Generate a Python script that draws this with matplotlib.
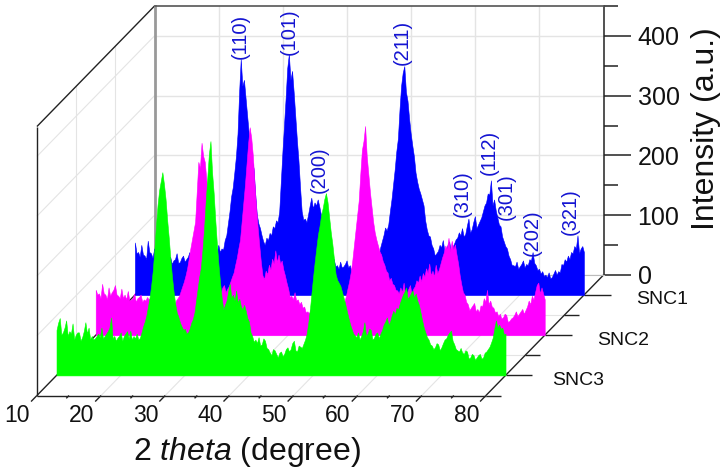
#XRD waterfall of three samples, drawn as an oblique 3D box on one axes
import numpy as np
import matplotlib
matplotlib.use('Agg')
import matplotlib.pyplot as plt

plt.rcParams['font.family'] = ['Liberation Sans', 'DejaVu Sans']
plt.rcParams['mathtext.fontset'] = 'custom'
plt.rcParams['mathtext.rm'] = 'Liberation Sans'
plt.rcParams['mathtext.it'] = 'Liberation Sans:italic'

# Intensity every 0.25 degree from 10 to 80
snc1 = [88,70,72,64,84,68,66,60,91,72,70,62,78,66,62,72,86,70,68,64,80,
        62,64,52,58,60,70,54,55,62,66,56,60,64,72,54,56,60,68,58,58,50,64,56,54,62,70,58,60,64,
        72,70,84,72,78,76,92,100,120,140,165,180,205,232,270,340,395,350,360,330,300,270,255,225,212,170,135,120,112,100,90,84,96,92,104,100,115,112,125,122,140,190,
        240,285,330,380,403,360,375,340,300,260,225,180,140,126,128,122,135,150,163,145,155,150,160,148,135,122,110,100,90,80,72,64,60,48,50,44,56,46,48,52,58,46,50,40,
        42,48,56,44,46,52,60,48,50,56,62,50,55,62,70,58,66,80,90,100,113,108,118,140,160,185,210,240,262,310,350,372,383,340,325,295,270,250,232,205,190,178,170,160,150,125,
        110,100,98,84,78,66,70,74,84,80,92,74,76,84,90,72,80,86,93,96,105,100,112,98,102,116,128,104,110,122,132,112,118,124,130,140,150,155,170,168,192,150,160,142,130,118,
        115,98,90,82,78,66,60,50,50,48,56,44,48,52,58,46,52,50,60,58,72,54,50,42,44,36,40,32,34,30,38,28,30,36,42,34,40,38,52,50,60,56,66,60,72,70,82,78,100,70,78,82,72]
snc2 = [76,68,70,62,86,70,68,60,80,66,72,76,84,68,66,62,78,62,68,60,74,58,60,62,
        70,56,62,64,68,56,60,58,64,60,62,52,58,62,66,54,60,56,56,60,62,48,54,58,60,50,58,62,66,74,82,90,100,112,128,145,160,175,190,240,290,280,322,300,290,260,238,210,180,150,120,100,
        85,74,72,80,84,72,78,82,90,98,105,118,130,146,160,190,220,250,285,320,348,330,300,255,215,180,150,122,100,94,108,102,118,110,128,120,142,122,135,120,125,110,100,88,78,64,66,60,
        72,58,60,52,56,46,48,38,40,36,44,32,36,30,40,30,34,30,38,28,32,30,36,26,30,28,34,32,40,44,52,56,65,78,90,105,125,150,175,200,225,270,310,325,350,300,270,240,215,190,172,160,150,
        140,135,124,118,108,105,92,96,86,84,76,75,70,80,72,88,66,70,78,84,68,78,82,92,88,100,90,104,98,112,104,120,100,108,98,118,104,110,120,130,138,150,145,163,140,158,144,152,135,120,100,
        85,72,68,56,52,42,46,50,54,40,44,38,50,48,62,56,76,52,58,48,46,38,40,32,36,28,30,36,34,22,24,28,30,34,40,32,36,40,44,36,42,48,58,52,66,60,72,84,88,70,80,70,60]
snc3 = [76,88,96,68,72,80,92,66,74,70,87,60,68,72,72,58,64,74,89,70,80,60,66,60,62,66,70,64,80,62,66,70,74,80,97,62,66,58,63,66,72,58,66,70,74,62,75,60,66,62,70,60,63,
        72,82,90,100,115,130,150,175,210,250,285,310,325,340,320,295,260,230,195,165,140,120,105,98,88,82,76,78,70,72,78,88,94,105,125,145,165,180,210,245,290,330,370,392,340,305,260,220,185,
        155,130,110,118,125,140,153,130,135,125,142,122,128,115,110,118,108,96,90,72,66,56,60,54,64,50,52,62,58,46,44,38,34,44,42,36,30,38,40,32,36,44,47,40,44,54,58,42,40,50,48,46,53,60,
        70,88,110,138,165,190,213,235,250,268,280,295,305,290,265,240,220,195,170,160,155,150,140,130,120,108,97,86,78,70,67,64,72,60,66,74,89,66,70,78,76,60,63,70,72,62,70,76,85,90,97,84,
        90,100,108,102,113,110,120,128,135,140,147,128,132,138,142,130,137,125,118,105,92,80,72,64,60,52,50,44,47,54,52,42,47,54,60,62,68,72,75,58,52,44,42,40,46,38,36,42,40,28,30,36,34,26,
        30,34,36,28,30,38,40,44,48,55,63,78,92,80,85,78,80,68,70]

samples = ['SNC1', 'SNC2', 'SNC3']
sample_pos = [3, 2, 1]
sample_label_x = [88.1, 88.1, 87.2]
colors = ['#0000ff', '#ff00ff', '#00ff00']

peak_labels = ['(110)', '(101)', '(200)', '(211)', '(310)', '(112)', '(301)', '(202)', '(321)']
peak_x = [26.4, 34.0, 38.7, 51.7, 61.0, 65.2, 67.9, 72.0, 77.8]
peak_y = [433, 440, 209, 423, 169, 239, 164, 105, 140]

x_major = [10, 20, 30, 40, 50, 60, 70, 80]
x_minor = [15, 25, 35, 45, 55, 65, 75]

DEPTH_DX = 18.33
DEPTH_DY = 201.6

def project(t, z, i):
    # oblique projection, z runs from 0.5 (front) to 3.5 (back wall)
    d = (3.5 - np.asarray(z, dtype=float)) / 3
    return np.asarray(t, dtype=float) - d * DEPTH_DX, np.asarray(i, dtype=float) - d * DEPTH_DY

def seg(t0, z0, i0, t1, z1, i1, **kw):
    x0, y0 = project(t0, z0, i0)
    x1, y1 = project(t1, z1, i1)
    ax.plot([x0, x1], [y0, y1], clip_on=False, solid_capstyle='butt', **kw)

fig = plt.figure(figsize=(7.26, 4.75), dpi=100)
ax = fig.add_axes([154.5 / 726, 200 / 475, 449 / 726, 269 / 475])
ax.set_xlim(10, 80)
ax.set_ylim(0, 450)
ax.patch.set_alpha(0)

# back wall is the real axes
ax.set_xticks(x_major[1:-1])
ax.set_yticks([0, 100, 200, 300, 400])
ax.set_yticks([50, 150, 250, 350, 450], minor=True)
ax.grid(True, color='#e4e4e4', lw=1)
ax.set_axisbelow(True)
ax.yaxis.tick_right()
ax.tick_params(axis='x', length=0, labelbottom=False)
ax.tick_params(axis='y', which='major', length=19.5, width=1.1, labelsize=18, pad=5, color='#222222', labelcolor='#111111')
ax.tick_params(axis='y', which='minor', length=10, width=1.1, color='#222222')
ax.yaxis.set_label_position('right')
ax.set_ylabel('Intensity (a.u.)', fontsize=23, rotation=90, va='center', ha='center', color='#111111')
ax.yaxis.set_label_coords(1.228, 0.543)
ax.spines['left'].set_color('#999999')
ax.spines['left'].set_linewidth(2)
ax.spines['bottom'].set_color('#bbbbbb')
ax.spines['top'].set_color('#555555')
ax.spines['top'].set_linewidth(1.2)
ax.spines['right'].set_color('#222222')
ax.spines['right'].set_linewidth(1.1)

grid = dict(color='#e4e4e4', lw=0.8, zorder=1)
for i in [100, 200, 300, 400]:
    seg(10, 0.5, i, 10, 3.5, i, **grid)
for z in [1.5, 2.5]:
    seg(10, z, 0, 10, z, 450, **grid)
    seg(10, z, 0, 80, z, 0, **grid)
for t in x_major[1:-1]:
    seg(t, 0.5, 0, t, 3.5, 0, **grid)

# box edges
edge = dict(color='#222222', lw=1.0, zorder=2)
seg(10, 0.5, 0, 80, 0.5, 0, **edge)
seg(10, 0.5, 0, 10, 3.5, 0, **edge)
seg(80, 0.5, 0, 80, 3.5, 0, **edge)
seg(10, 0.5, 0, 10, 0.5, 450, **edge)
seg(10, 0.5, 450, 10, 3.5, 450, **edge)

# spectra, back to front
for vals, z, c in zip([snc1, snc2, snc3], sample_pos, colors):
    t = np.linspace(10, 80, len(vals))
    px, py = project(t, z, np.array(vals))
    bx, by = project(t, z, np.zeros(len(vals)))
    ax.fill_between(px, by, py, color=c, lw=0.4, zorder=3 + (3 - z), clip_on=False)

# front x ticks and labels
for t in x_major:
    seg(t, 0.5, 0, t, 0.35, 0, **edge)
    lx, ly = project(t, 0.0, 0)
    ax.text(lx, ly, str(t), fontsize=16.5, ha='center', va='center', color='#111111', clip_on=False)
for t in x_minor:
    seg(t, 0.5, 0, t, 0.43, 0, **edge)
lx, ly = project(51.3, -0.9, 0)
ax.text(lx, ly, r'2 $\mathit{theta}$ (degree)', fontsize=23, ha='center', va='center', color='#111111', clip_on=False)

# depth ticks and sample names
for z in sample_pos:
    seg(80, z, 0, 84.2, z, 0, **edge)
for z in [0.5, 1.5, 2.5]:
    seg(80, z, 0, 82.3, z, 0, **edge)
for name, z, tx in zip(samples, sample_pos, sample_label_x):
    lx, ly = project(tx, z, -8)
    ax.text(lx, ly, name, fontsize=14, ha='left', va='center', color='#111111', clip_on=False)

# peak indices belong to the back spectrum
for lab, t, i in zip(peak_labels, peak_x, peak_y):
    lx, ly = project(t, 3, i)
    ax.text(lx, ly, lab, fontsize=14.5, rotation=90, ha='center', va='center', color='#1414d2', zorder=10, clip_on=False)

plt.savefig('out.png', dpi=100)
